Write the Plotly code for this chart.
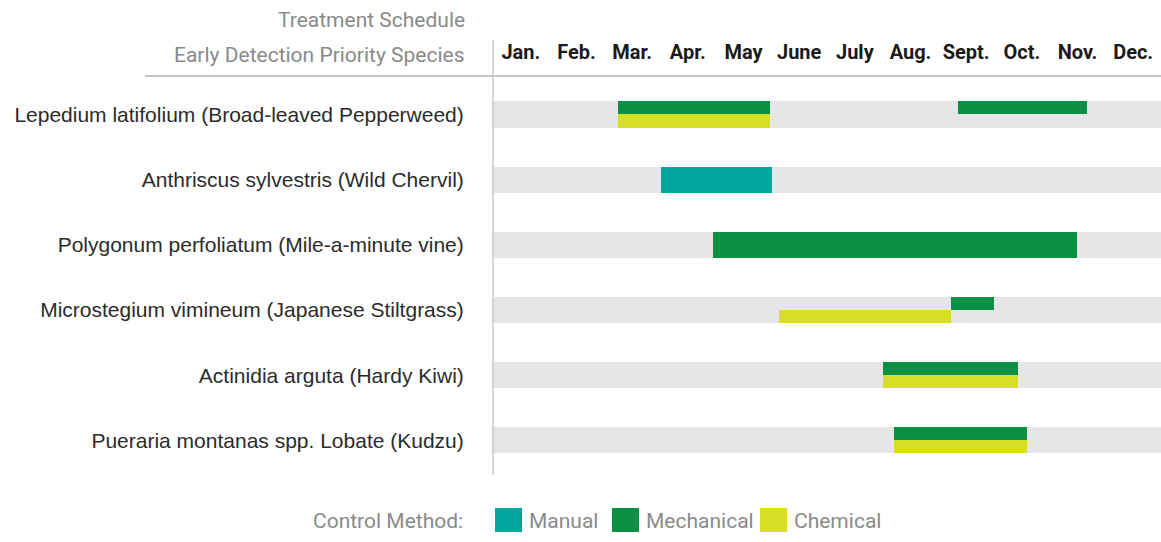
import plotly.graph_objects as go

# Months of the treatment calendar (bars are placed in month units: 0 = 1 Jan, 12 = 31 Dec)
months = ["Jan.", "Feb.", "Mar.", "Apr.", "May", "June", "July",
          "Aug.", "Sept.", "Oct.", "Nov.", "Dec."]

species = [
    "Lepedium latifolium (Broad-leaved Pepperweed)",
    "Anthriscus sylvestris (Wild Chervil)",
    "Polygonum perfoliatum (Mile-a-minute vine)",
    "Microstegium vimineum (Japanese Stiltgrass)",
    "Actinidia arguta (Hardy Kiwi)",
    "Pueraria montanas spp. Lobate (Kudzu)",
]

# Treatment windows per control method
manual_species = ["Anthriscus sylvestris (Wild Chervil)"]
manual_start = [3.02]
manual_end = [5.01]

mechanical_species = [
    "Lepedium latifolium (Broad-leaved Pepperweed)",
    "Lepedium latifolium (Broad-leaved Pepperweed)",
    "Polygonum perfoliatum (Mile-a-minute vine)",
    "Microstegium vimineum (Japanese Stiltgrass)",
    "Actinidia arguta (Hardy Kiwi)",
    "Pueraria montanas spp. Lobate (Kudzu)",
]
mechanical_start = [2.25, 8.35, 3.95, 8.22, 7.01, 7.21]
mechanical_end = [4.97, 10.67, 10.49, 9.00, 9.44, 9.60]

chemical_species = [
    "Lepedium latifolium (Broad-leaved Pepperweed)",
    "Microstegium vimineum (Japanese Stiltgrass)",
    "Actinidia arguta (Hardy Kiwi)",
    "Pueraria montanas spp. Lobate (Kudzu)",
]
chemical_start = [2.25, 5.14, 7.01, 7.21]
chemical_end = [4.97, 8.22, 9.44, 9.60]

methods = ["Manual", "Mechanical", "Chemical"]
method_colors = {"Manual": "#00a69b", "Mechanical": "#0a9043", "Chemical": "#d5de21"}

HEAD_FONT = "Roboto, Liberation Sans, sans-serif"
BAND = 0.4          # row band thickness in row units
row_of = {name: i for i, name in enumerate(species)}

fig = go.Figure()

# light grey band behind every species row
fig.add_trace(go.Bar(
    orientation="h", y=list(range(len(species))), base=[0] * len(species),
    x=[12] * len(species), width=BAND, marker=dict(color="#e6e6e8", line_width=0),
    hoverinfo="skip", showlegend=False,
))

# rows treated both mechanically and chemically show the two methods stacked in halves
split_rows = set(row_of[s] for s in mechanical_species) & set(row_of[s] for s in chemical_species)


def add_method(method, names, starts, ends, half):
    ys, widths = [], []
    for n in names:
        r = row_of[n]
        if r in split_rows and half != 0:
            ys.append(r + half * BAND / 4)
            widths.append(BAND / 2)
        else:
            ys.append(r)
            widths.append(BAND)
    fig.add_trace(go.Bar(
        orientation="h", name=method, y=ys, base=starts,
        x=[e - s for s, e in zip(starts, ends)], width=widths,
        marker=dict(color=method_colors[method], line_width=0),
        customdata=names, hovertemplate="%{customdata}<extra>" + method + "</extra>",
        showlegend=False,
    ))


add_method("Manual", manual_species, manual_start, manual_end, 0)
add_method("Mechanical", mechanical_species, mechanical_start, mechanical_end, -1)
add_method("Chemical", chemical_species, chemical_start, chemical_end, 1)

# plot area geometry in pixels
W, H = 1161, 542
L, T, B = 493, 76, 475
pw, ph = W - L, B - T


def px_x(px):
    return (px - L) / pw


def px_y(py):
    return (B - py) / ph


shapes = [
    # header rule
    dict(type="line", xref="paper", yref="paper", x0=px_x(145), x1=1, y0=1, y1=1,
         line=dict(color="#c4c4c4", width=2)),
    # vertical divider between species names and calendar
    dict(type="line", xref="paper", yref="paper", x0=0, x1=0, y0=0, y1=px_y(40),
         line=dict(color="#c8c8c8", width=1.5)),
]

annotations = [
    dict(text="Treatment Schedule", xref="paper", yref="paper", x=px_x(467), y=px_y(20),
         xanchor="right", yanchor="middle", showarrow=False,
         font=dict(family=HEAD_FONT, size=21, color="#8a8a8a")),
    dict(text="Early Detection Priority Species", xref="paper", yref="paper",
         x=px_x(467), y=px_y(55), xanchor="right", yanchor="middle", showarrow=False,
         font=dict(family=HEAD_FONT, size=21, color="#8a8a8a")),
    dict(text="Control Method:", xref="paper", yref="paper", x=px_x(465), y=px_y(521),
         xanchor="right", yanchor="middle", showarrow=False,
         font=dict(family=HEAD_FONT, size=21, color="#8a8a8a")),
]

# custom legend: swatch + label for each control method
swatch_left = {"Manual": 495, "Mechanical": 612, "Chemical": 760}
for m in methods:
    x0 = swatch_left[m]
    shapes.append(dict(type="rect", xref="paper", yref="paper",
                       x0=px_x(x0), x1=px_x(x0 + 27), y0=px_y(532), y1=px_y(508),
                       fillcolor=method_colors[m], line_width=0))
    annotations.append(dict(text=m, xref="paper", yref="paper", x=px_x(x0 + 32),
                            y=px_y(521), xanchor="left", yanchor="middle", showarrow=False,
                            font=dict(family=HEAD_FONT, size=21, color="#8a8a8a")))

fig.update_layout(
    width=W, height=H,
    margin=dict(l=L, r=0, t=T, b=H - B),
    paper_bgcolor="white", plot_bgcolor="white",
    barmode="overlay", bargap=0,
    showlegend=False,
    shapes=shapes, annotations=annotations,
    xaxis=dict(
        range=[0, 12], side="top", tickmode="array",
        tickvals=[i + 0.5 for i in range(12)], ticktext=months, tickangle=0,
        ticks="outside", ticklen=8, tickcolor="rgba(0,0,0,0)",
        tickfont=dict(family=HEAD_FONT, size=20, color="#1a1a1a", weight="bold"),
        showgrid=False, zeroline=False, showline=False, fixedrange=True,
    ),
    yaxis=dict(
        range=[5.53, -0.59], tickmode="array",
        tickvals=list(range(len(species))), ticktext=species,
        ticks="outside", ticklen=24, tickcolor="rgba(0,0,0,0)",
        tickfont=dict(family="Liberation Sans, Arial, sans-serif", size=21, color="#2b2b2b"),
        showgrid=False, zeroline=False, showline=False, fixedrange=True,
    ),
)

fig.write_html("out.html")
